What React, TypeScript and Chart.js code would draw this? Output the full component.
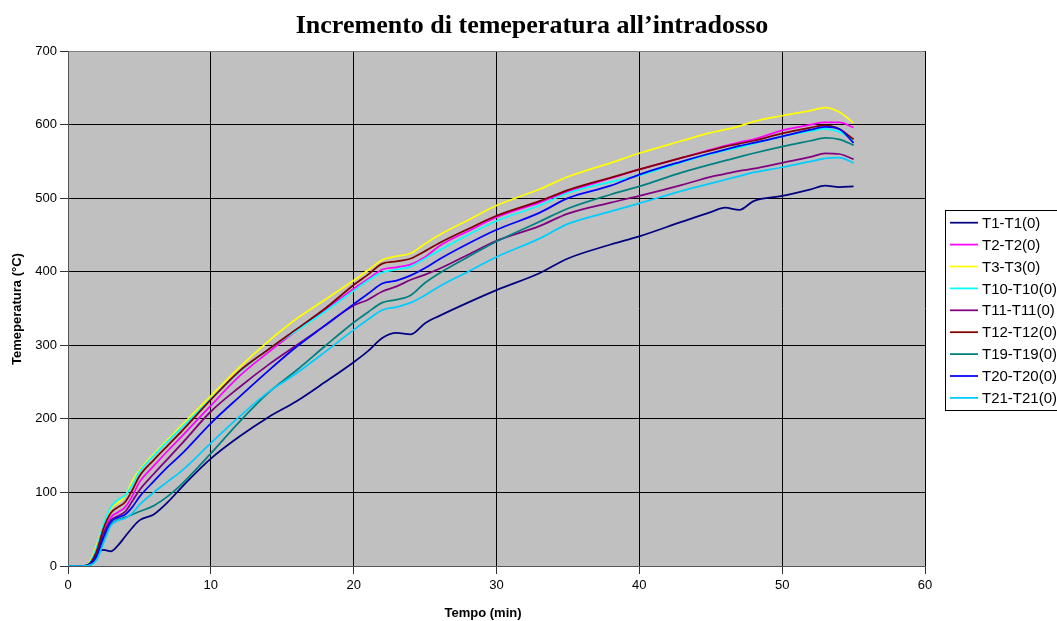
import React, { useEffect, useRef } from "react";
import { Chart, registerables } from "chart.js";

Chart.register(...registerables);

const chartTitle = "Incremento di temeperatura all\u2019intradosso";
const xTitle = "Tempo (min)";
const yTitle = "Temeperatura (\u00B0C)";

const xTickMin = 0;
const xTickMax = 60;
const xTickStep = 10;
const yTickMin = 0;
const yTickMax = 700;
const yTickStep = 100;

const times = [0, 1, 1.5, 2, 2.5, 3, 3.5, 4, 4.5, 5, 6, 7, 8, 10, 12, 14, 16, 18, 20, 21, 22, 23, 24, 25, 26, 28, 30, 33, 35, 38, 40, 43, 45, 46, 47, 48, 50, 52, 53, 54, 55];

const seriesNames = ["T1-T1(0)", "T2-T2(0)", "T3-T3(0)", "T10-T10(0)", "T11-T11(0)", "T12-T12(0)", "T19-T19(0)", "T20-T20(0)", "T21-T21(0)"];
const seriesColors = ["#000080", "#FF00FF", "#FFFF00", "#00FFFF", "#800080", "#800000", "#008080", "#0000FF", "#00CCFF"];

const t1 = [0, 0, 3, 18, 22, 20, 28, 40, 52, 62, 70, 87, 108, 146, 176, 202, 224, 250, 277, 292, 310, 317, 315, 330, 340, 358, 375, 398, 418, 437, 448, 468, 481, 487, 484, 496, 503, 512, 517, 515, 516];
const t2 = [0, 0, 2, 16, 46, 66, 73, 80, 95, 114, 136, 157, 177, 218, 258, 290, 320, 348, 377, 390, 403, 406, 410, 420, 435, 455, 474, 494, 509, 527, 539, 555, 566, 571, 576, 580, 592, 600, 603, 603, 596];
const t3 = [0, 0, 5, 28, 58, 78, 86, 95, 115, 130, 152, 172, 192, 231, 270, 305, 336, 362, 388, 402, 416, 421, 425, 438, 450, 470, 490, 512, 529, 548, 561, 578, 589, 593, 598, 604, 612, 619, 623, 617, 602];
const t10 = [0, 0, 4, 25, 58, 80, 90, 96, 110, 128, 150, 170, 189, 227, 264, 294, 320, 346, 374, 388, 399, 403, 407, 418, 429, 450, 469, 490, 507, 522, 531, 549, 560, 565, 569, 574, 584, 591, 594, 590, 579];
const t11 = [0, 0, 2, 15, 44, 62, 68, 74, 88, 103, 125, 146, 167, 210, 243, 273, 300, 327, 354, 362, 373, 380, 389, 396, 404, 423, 442, 462, 479, 494, 503, 518, 529, 533, 537, 540, 548, 556, 561, 560, 553];
const t12 = [0, 0, 3, 20, 52, 72, 80, 87, 103, 122, 144, 164, 184, 226, 265, 294, 322, 350, 382, 396, 411, 414, 418, 428, 439, 458, 476, 496, 511, 528, 539, 555, 565, 570, 574, 578, 588, 596, 599, 594, 580];
const t19 = [0, 0, 1, 10, 36, 56, 63, 66, 70, 74, 82, 95, 112, 153, 196, 235, 266, 299, 331, 345, 358, 362, 368, 385, 398, 420, 441, 468, 486, 505, 516, 535, 546, 551, 556, 561, 570, 578, 582, 580, 572];
const t20 = [0, 0, 2, 13, 40, 60, 66, 70, 80, 94, 115, 135, 153, 194, 230, 265, 298, 327, 356, 370, 384, 388, 395, 405, 417, 438, 457, 480, 500, 517, 532, 550, 561, 566, 571, 575, 584, 593, 597, 594, 575];
const t21 = [0, 0, 1, 8, 32, 55, 62, 65, 72, 83, 100, 115, 130, 167, 203, 236, 262, 291, 321, 335, 348, 352, 358, 368, 380, 400, 420, 445, 465, 482, 493, 510, 520, 525, 530, 535, 542, 550, 554, 555, 548];

export default function App() {
  const ref = useRef<HTMLCanvasElement>(null);

  useEffect(() => {
    document.body.style.margin = "0";
    const canvas = ref.current;
    if (!canvas) return;
    const series = [t1, t2, t3, t10, t11, t12, t19, t20, t21];
    const datasets = series.map((vals, i) => ({
      label: seriesNames[i],
      data: vals.map((v, j) => ({ x: times[j], y: v })),
      borderColor: seriesColors[i],
      backgroundColor: seriesColors[i],
      borderWidth: 1.75,
      pointRadius: 0,
      pointHoverRadius: 0,
      tension: 0.4,
      cubicInterpolationMode: "monotone" as const,
      fill: false,
      order: series.length - i,
    }));

    const sans = '"Liberation Sans", Arial, sans-serif';

    const decor = {
      id: "decor",
      beforeDraw(chart: any) {
        const { ctx, chartArea: a } = chart;
        ctx.save();
        ctx.fillStyle = "#ffffff";
        ctx.fillRect(0, 0, chart.width, chart.height);
        ctx.fillStyle = "#C0C0C0";
        ctx.fillRect(a.left, a.top, a.right - a.left, a.bottom - a.top);
        ctx.restore();
      },
      afterDraw(chart: any) {
        const { ctx } = chart;
        ctx.save();
        // title
        ctx.fillStyle = "#000";
        ctx.textAlign = "center";
        ctx.textBaseline = "middle";
        ctx.font = 'bold 26px "Liberation Serif", "Times New Roman", serif';
        ctx.fillText(chartTitle, 532, 26);
        // axis titles
        ctx.font = "bold 13px " + sans;
        ctx.fillText(xTitle, 483, 613);
        ctx.save();
        ctx.translate(17, 309);
        ctx.rotate(-Math.PI / 2);
        ctx.fillText(yTitle, 0, 0);
        ctx.restore();
        // legend
        const lx = 945.5;
        const ly = 210.5;
        ctx.fillStyle = "#ffffff";
        ctx.fillRect(lx, ly, 140, 200);
        ctx.strokeStyle = "#000";
        ctx.lineWidth = 1;
        ctx.strokeRect(lx, ly, 140, 200);
        ctx.font = "15px " + sans;
        ctx.textAlign = "left";
        chart.data.datasets.forEach((ds: any, i: number) => {
          const y = 222.7 + 21.9 * i;
          ctx.strokeStyle = ds.borderColor;
          ctx.lineWidth = 1.75;
          ctx.beginPath();
          ctx.moveTo(950, y);
          ctx.lineTo(978, y);
          ctx.stroke();
          ctx.fillStyle = "#000";
          ctx.fillText(ds.label, 982, y + 1);
        });
        ctx.restore();
      },
    };

    const chart = new Chart(canvas, {
      type: "line",
      data: { datasets },
      options: {
        responsive: false,
        animation: false,
        events: [],
        layout: { padding: { left: 0, top: 51, right: 132, bottom: 0 } },
        plugins: {
          legend: { display: false },
          title: { display: false },
          tooltip: { enabled: false },
        },
        scales: {
          x: {
            type: "linear",
            min: xTickMin,
            max: xTickMax,
            ticks: { stepSize: xTickStep, color: "#000", font: { family: sans, size: 13 }, padding: 4, maxRotation: 0 },
            grid: { color: "#000", lineWidth: 1, tickLength: 8, tickColor: "#333" },
            border: { display: true, color: "#555", width: 1 },
            afterFit: (s: any) => { s.height = 55; },
          },
          y: {
            type: "linear",
            min: yTickMin,
            max: yTickMax,
            ticks: { stepSize: yTickStep, color: "#000", font: { family: sans, size: 13 }, padding: 3 },
            grid: {
              color: (c: any) => (c.tick && c.tick.value === yTickMax ? "#808080" : "#000"),
              lineWidth: 1,
              tickLength: 8,
              tickColor: "#333",
            },
            border: { display: true, color: "#555", width: 1 },
            afterFit: (s: any) => { s.width = 68; },
          },
        },
      },
      plugins: [decor],
    } as any);

    return () => chart.destroy();
  }, []);

  return <canvas ref={ref} width={1057} height={621} style={{ display: "block" }} />;
}
